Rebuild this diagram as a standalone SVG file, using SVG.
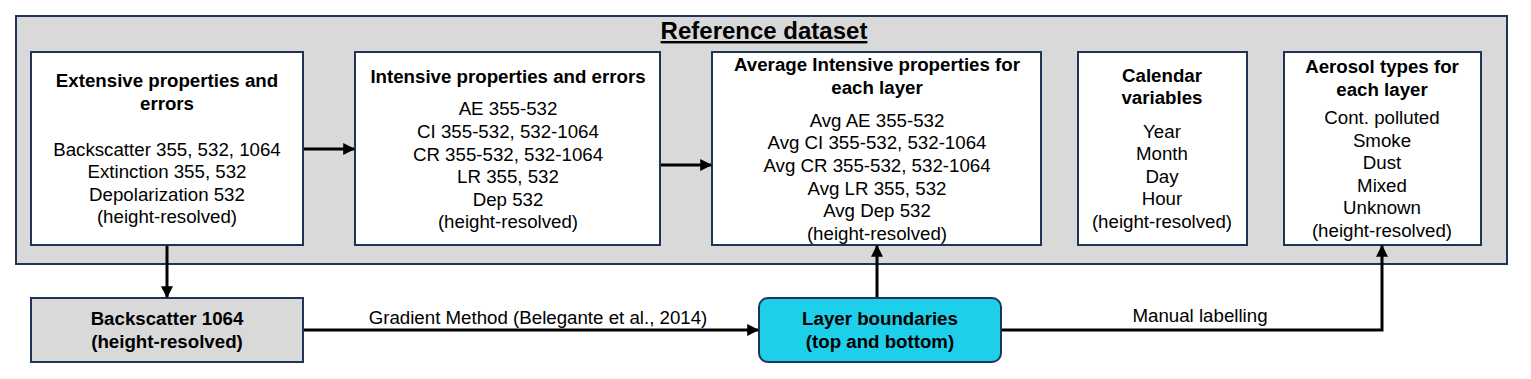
<svg xmlns="http://www.w3.org/2000/svg" width="1531" height="379" viewBox="0 0 1531 379">
<style>
text{font-family:"Liberation Sans",Arial,sans-serif;fill:#000;text-anchor:middle}
.t{font-size:18.7px}
.b{font-size:18.7px;font-weight:bold}
.box{fill:#fff;stroke:#1f3457;stroke-width:2}
.c{stroke:#000;stroke-width:3;fill:none}
</style>
<defs>
<marker id="ah" viewBox="0 0 10 10" refX="9" refY="5" markerWidth="4" markerHeight="4" orient="auto" markerUnits="strokeWidth">
<path d="M0,0 L10,5 L0,10 z" fill="#000"/>
</marker>
</defs>
<g id="container">
<rect x="16" y="16" width="1491" height="248" fill="#d9d9d9" stroke="#1f3457" stroke-width="2"/>
<text x="764" y="39" style="font-size:24px;font-weight:bold;text-decoration:underline">Reference dataset</text>
</g>
<g id="extensive">
<rect class="box" x="31" y="52" width="272" height="193"/>
<text class="b" x="167" y="87">Extensive properties and</text>
<text class="b" x="167" y="110">errors</text>
<text class="t" x="167" y="156">Backscatter 355, 532, 1064</text>
<text class="t" x="167" y="178">Extinction 355, 532</text>
<text class="t" x="167" y="201">Depolarization 532</text>
<text class="t" x="167" y="223">(height-resolved)</text>
</g>
<g id="intensive">
<rect class="box" x="355" y="52" width="305" height="193"/>
<text class="b" x="508" y="83">Intensive properties and errors</text>
<text class="t" x="508" y="115">AE 355-532</text>
<text class="t" x="508" y="138">CI 355-532, 532-1064</text>
<text class="t" x="508" y="161">CR 355-532, 532-1064</text>
<text class="t" x="508" y="183">LR 355, 532</text>
<text class="t" x="508" y="206">Dep 532</text>
<text class="t" x="508" y="228">(height-resolved)</text>
</g>
<g id="average">
<rect class="box" x="712" y="52" width="329" height="193"/>
<text class="b" x="877" y="71">Average Intensive properties for</text>
<text class="b" x="877" y="94">each layer</text>
<text class="t" x="877" y="127">Avg AE 355-532</text>
<text class="t" x="877" y="149">Avg CI 355-532, 532-1064</text>
<text class="t" x="877" y="172">Avg CR 355-532, 532-1064</text>
<text class="t" x="877" y="195">Avg LR 355, 532</text>
<text class="t" x="877" y="217">Avg Dep 532</text>
<text class="t" x="877" y="240">(height-resolved)</text>
</g>
<g id="calendar">
<rect class="box" x="1078" y="52" width="169" height="193"/>
<text class="b" x="1162" y="82">Calendar</text>
<text class="b" x="1162" y="104">variables</text>
<text class="t" x="1162" y="138">Year</text>
<text class="t" x="1162" y="160">Month</text>
<text class="t" x="1162" y="183">Day</text>
<text class="t" x="1162" y="205">Hour</text>
<text class="t" x="1162" y="228">(height-resolved)</text>
</g>
<g id="aerosol">
<rect class="box" x="1284" y="52" width="197" height="193"/>
<text class="b" x="1382" y="73">Aerosol types for</text>
<text class="b" x="1382" y="96">each layer</text>
<text class="t" x="1382" y="124">Cont. polluted</text>
<text class="t" x="1382" y="147">Smoke</text>
<text class="t" x="1382" y="169">Dust</text>
<text class="t" x="1382" y="192">Mixed</text>
<text class="t" x="1382" y="214">Unknown</text>
<text class="t" x="1382" y="237">(height-resolved)</text>
</g>
<g id="backscatter1064">
<rect x="31" y="298" width="272" height="64" fill="#d9d9d9" stroke="#1f3457" stroke-width="2"/>
<text class="b" x="167" y="325">Backscatter 1064</text>
<text class="b" x="167" y="348">(height-resolved)</text>
</g>
<g id="layerboundaries">
<rect x="759" y="298" width="242" height="64" rx="9" ry="9" fill="#1ecfe9" stroke="#1f3457" stroke-width="2"/>
<text class="b" x="880" y="325">Layer boundaries</text>
<text class="b" x="880" y="348">(top and bottom)</text>
</g>
<g id="connectors">
<line class="c" x1="304" y1="149" x2="354" y2="149" marker-end="url(#ah)"/>
<line class="c" x1="661" y1="165" x2="711" y2="165" marker-end="url(#ah)"/>
<line class="c" x1="167" y1="246" x2="167" y2="297" marker-end="url(#ah)"/>
<line class="c" x1="304" y1="330" x2="758" y2="330" marker-end="url(#ah)"/>
<line class="c" x1="877" y1="297" x2="877" y2="246" marker-end="url(#ah)"/>
<polyline class="c" points="1002,330 1382,330 1382,246" marker-end="url(#ah)"/>
<text class="t" x="538" y="324">Gradient Method (Belegante et al., 2014)</text>
<text class="t" x="1200" y="322">Manual labelling</text>
</g>
</svg>
